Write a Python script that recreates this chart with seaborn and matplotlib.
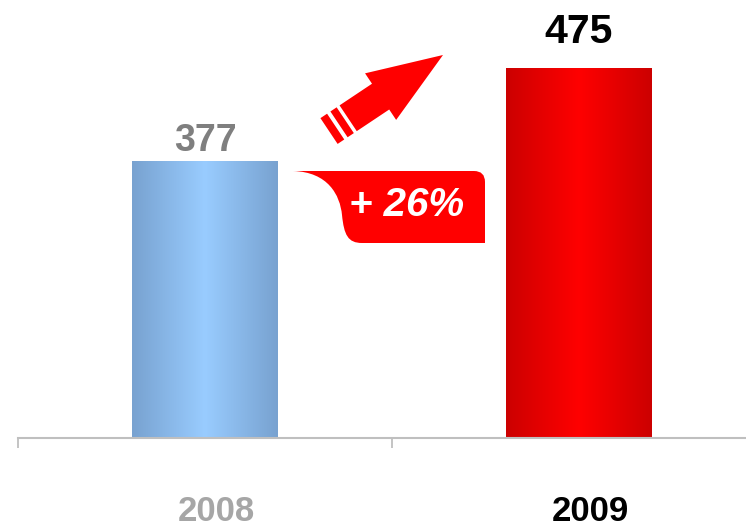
import numpy as np
import pandas as pd
import matplotlib
matplotlib.use("Agg")
import matplotlib.pyplot as plt
import seaborn as sns
from matplotlib.colors import LinearSegmentedColormap
from matplotlib.patches import Polygon, PathPatch
from matplotlib.path import Path

# ---- data ----
years = ["2008", "2009"]
values = [377, 475]
growth_label = "+ 26%"

# ---- style ----
sns.set_theme(style="white")
plt.rcParams['font.family'] = ['Liberation Sans', 'DejaVu Sans']

W, H = 746, 527
PX = 0.72  # points per pixel at dpi 100
fig = plt.figure(figsize=(W / 100, H / 100), dpi=100)
fig.patch.set_facecolor("white")

base_px = 438
ax = fig.add_axes([18 / W, (H - base_px) / H, 748 / W, base_px / H])
df = pd.DataFrame({"year": years, "value": values})
sns.barplot(data=df, x="year", y="value", width=0.39, ax=ax, color="#99CCFF",
            saturation=1, errorbar=None, linewidth=0)

ax.set_xlim(-0.5, 1.5)
ax.set_ylim(85.1, 546.7)
ymin = ax.get_ylim()[0]

# gradient fills clipped to the seaborn bars
cmaps = [
    LinearSegmentedColormap.from_list("b", ["#78A2D0", "#99CCFF", "#78A2D0"]),
    LinearSegmentedColormap.from_list("r", ["#CC0000", "#FF0000", "#CC0000"]),
]
grad = np.linspace(0, 1, 256).reshape(1, -1)
for patch, cmap in zip(list(ax.patches), cmaps):
    x0, w, h = patch.get_x(), patch.get_width(), patch.get_height()
    im = ax.imshow(grad, cmap=cmap, aspect="auto",
                   extent=[x0, x0 + w, max(0, ymin), h],
                   zorder=patch.get_zorder() + 0.1, interpolation="bilinear")
    im.set_clip_path(patch)
    im.set_clip_box(ax.bbox)

ax.set_xlim(-0.5, 1.5)
ax.set_ylim(85.1, 546.7)
ax.set_xlabel("")
ax.set_ylabel("")
ax.set_yticks([])
ax.set_xticks([-0.5, 0.5, 1.5])
ax.set_xticklabels(["", "", ""])
ax.tick_params(axis="x", bottom=True, direction="out", length=7.5, width=1.3,
               color="#BFBFBF")
for s in ["left", "top", "right"]:
    ax.spines[s].set_visible(False)
ax.spines["bottom"].set_color("#BFBFBF")
ax.spines["bottom"].set_linewidth(1.5)
ax.patch.set_alpha(0)

# value labels
value_colors = ["#7F7F7F", "#000000"]
value_sizes = [27, 29.5]
value_gaps = [10, 25]
for i, v in enumerate(values):
    ax.annotate(str(v), xy=(i, v), xytext=(0, value_gaps[i] * PX),
                textcoords="offset points", ha="center", va="baseline",
                fontsize=value_sizes[i], fontweight="bold", color=value_colors[i],
                annotation_clip=False)

# category labels
year_colors = ["#A6A6A6", "#000000"]
for i, yr in enumerate(years):
    ax.annotate(yr, xy=(i, 0), xycoords=("data", "axes fraction"),
                xytext=(11.5 * PX, -83 * PX), textcoords="offset points",
                ha="center", va="baseline", fontsize=25, fontweight="bold",
                color=year_colors[i], annotation_clip=False)

# ---- decorations in pixel coordinates ----
ov = fig.add_axes([0, 0, 1, 1])
ov.set_xlim(0, W)
ov.set_ylim(H, 0)
ov.axis("off")
ov.patch.set_alpha(0)

tip = np.array([443.0, 55.0])
b = np.array([-0.832, 0.555])
p = np.array([0.555, 0.832])


def pt(s, t):
    return tip + s * b + t * p


arrow = [pt(0, 0), pt(75, -28), pt(75, -15.5), pt(114, -15.5), pt(114, 15.5),
         pt(75, 15.5), pt(75, 28)]
ov.add_patch(Polygon(arrow, closed=True, facecolor="#FF0000", edgecolor="none"))
for s0, s1 in [(117.5, 125), (129, 137)]:
    ov.add_patch(Polygon([pt(s0, -15.5), pt(s1, -15.5), pt(s1, 15.5), pt(s0, 15.5)],
                         closed=True, facecolor="#FF0000", edgecolor="none"))

verts = [
    (293, 171),
    (328, 172), (340, 195), (342, 215),
    (344, 235), (348, 243), (362, 243),
    (485, 243),
    (485, 182),
    (485, 171), (474, 171),
    (293, 171),
]
codes = [Path.MOVETO,
         Path.CURVE4, Path.CURVE4, Path.CURVE4,
         Path.CURVE4, Path.CURVE4, Path.CURVE4,
         Path.LINETO,
         Path.LINETO,
         Path.CURVE3, Path.CURVE3,
         Path.CLOSEPOLY]
ov.add_patch(PathPatch(Path(verts, codes), facecolor="#FF0000", edgecolor="none"))
ov.text(407, 205, growth_label, ha="center", va="center", color="white",
        fontsize=29, fontweight="bold", fontstyle="italic")

fig.savefig("out.png", dpi=100, facecolor="white")
